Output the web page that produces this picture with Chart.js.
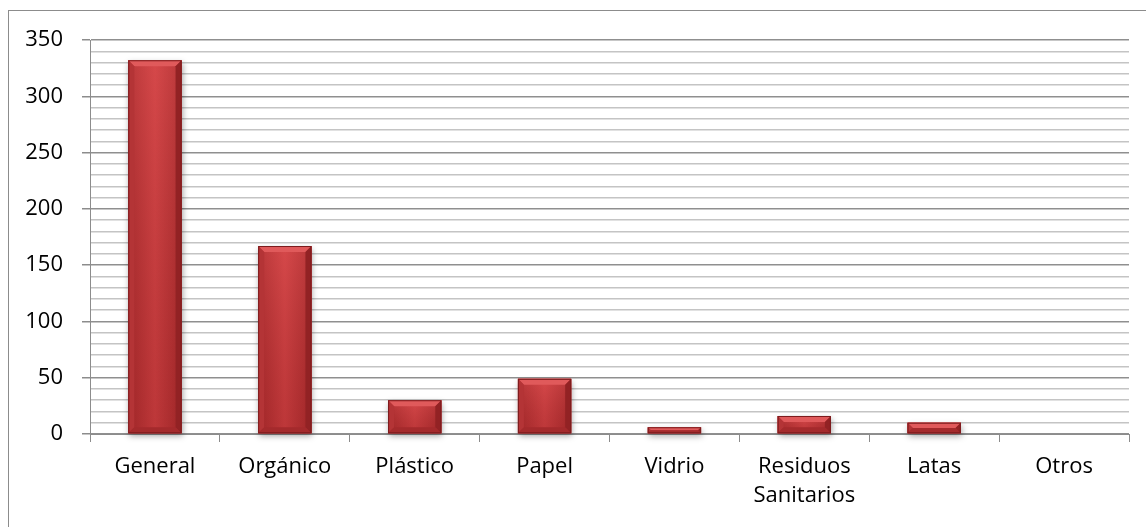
<!DOCTYPE html>
<html>
<head>
<meta charset="utf-8">
<script src="https://cdn.jsdelivr.net/npm/chart.js@4/dist/chart.umd.min.js"></script>
<style>
  html, body { margin: 0; padding: 0; background: #fff; overflow: hidden; }
  #frame {
    position: absolute; left: 8px; top: 10px; width: 1150px; height: 540px;
    border: 1px solid #8c8c8c; box-sizing: border-box;
  }
  #wrap { position: absolute; left: 0; top: 0; width: 1146px; height: 527px; }
</style>
</head>
<body>
<div id="frame"></div>
<div id="wrap"><canvas id="chart"></canvas></div>
<script>
const categories = ['General', 'Orgánico', 'Plástico', 'Papel', 'Vidrio', ['Residuos', 'Sanitarios'], 'Latas', 'Otros'];
const values = [332, 167, 30, 49, 6, 16, 10, 0];
const yMax = 350;
const yStep = 10;
const yLabelStep = 50;

// draws the soft shadow under each bar before the library paints the bars
const shadowPlugin = {
  id: 'barShadow',
  beforeDatasetsDraw(chart) {
    const ctx = chart.ctx;
    const meta = chart.getDatasetMeta(0);
    ctx.save();
    meta.data.forEach((el) => {
      const h = el.base - el.y;
      if (h < 1) return;
      ctx.shadowColor = 'rgba(0,0,0,0.35)';
      ctx.shadowBlur = 6;
      ctx.shadowOffsetX = 1;
      ctx.shadowOffsetY = 3;
      ctx.fillStyle = '#b03234';
      ctx.fillRect(el.x - el.width / 2, el.y, el.width, h);
    });
    ctx.restore();
  }
};

// bevel look of the office style bars, laid over the library's bars
const bevelPlugin = {
  id: 'bevel',
  afterDatasetsDraw(chart) {
    const ctx = chart.ctx;
    const meta = chart.getDatasetMeta(0);
    ctx.save();
    meta.data.forEach((el) => {
      const top = el.y, bottom = el.base;
      const left = el.x - el.width / 2, right = el.x + el.width / 2;
      const h = bottom - top;
      if (h < 1) return;
      const b = Math.min(6, h / 2);

      const face = ctx.createLinearGradient(left, 0, right, 0);
      face.addColorStop(0, '#a82b2d');
      face.addColorStop(0.5, '#cb3f41');
      face.addColorStop(1, '#a82b2d');
      ctx.fillStyle = face;
      ctx.fillRect(left, top, right - left, h);

      const vert = ctx.createLinearGradient(0, top, 0, bottom);
      vert.addColorStop(0, 'rgba(255,110,110,0.2)');
      vert.addColorStop(1, 'rgba(90,0,0,0.12)');
      ctx.fillStyle = vert;
      ctx.fillRect(left, top, right - left, h);

      // top bevel
      ctx.fillStyle = '#e05a5b';
      ctx.beginPath();
      ctx.moveTo(left, top); ctx.lineTo(right, top);
      ctx.lineTo(right - b, top + b); ctx.lineTo(left + b, top + b);
      ctx.closePath(); ctx.fill();
      // left bevel
      ctx.fillStyle = '#b43436';
      ctx.beginPath();
      ctx.moveTo(left, top); ctx.lineTo(left + b, top + b);
      ctx.lineTo(left + b, bottom - b); ctx.lineTo(left, bottom);
      ctx.closePath(); ctx.fill();
      // right bevel
      ctx.fillStyle = '#922224';
      ctx.beginPath();
      ctx.moveTo(right, top); ctx.lineTo(right - b, top + b);
      ctx.lineTo(right - b, bottom - b); ctx.lineTo(right, bottom);
      ctx.closePath(); ctx.fill();
      // bottom bevel
      ctx.fillStyle = '#a42a2c';
      ctx.beginPath();
      ctx.moveTo(left, bottom); ctx.lineTo(left + b, bottom - b);
      ctx.lineTo(right - b, bottom - b); ctx.lineTo(right, bottom);
      ctx.closePath(); ctx.fill();

      ctx.strokeStyle = '#7c1b1d';
      ctx.lineWidth = 1;
      ctx.strokeRect(left + 0.5, top + 0.5, right - left - 1, h - 1);
    });
    ctx.restore();
  }
};

const ctx = document.getElementById('chart').getContext('2d');
new Chart(ctx, {
  type: 'bar',
  data: {
    labels: categories,
    datasets: [{
      data: values,
      backgroundColor: '#c23a3c',
      borderWidth: 0,
      barPercentage: 0.41,
      categoryPercentage: 1
    }]
  },
  options: {
    responsive: true,
    maintainAspectRatio: false,
    animation: false,
    events: [],
    layout: { padding: { left: 0, right: 17, top: 40, bottom: 0 } },
    plugins: {
      legend: { display: false },
      tooltip: { enabled: false }
    },
    scales: {
      x: {
        afterFit(scale) { scale.height = 93; },
        border: { color: '#8c8c8c', width: 1 },
        grid: {
          offset: true,
          drawOnChartArea: false,
          drawTicks: true,
          tickLength: 8,
          tickColor: '#8c8c8c'
        },
        ticks: {
          color: '#000',
          padding: 10,
          maxRotation: 0,
          autoSkip: false,
          font: { family: 'Open Sans', size: 22, lineHeight: 1.32 }
        }
      },
      y: {
        min: 0,
        max: yMax,
        afterFit(scale) { scale.width = 90; },
        border: { color: '#8c8c8c', width: 1 },
        grid: {
          color: (c) => (c.tick && c.tick.value % yLabelStep === 0 ? '#8f8f8f' : '#c4c4c4'),
          lineWidth: 1.5,
          tickLength: 8,
          tickColor: (c) => (c.tick && c.tick.value % yLabelStep === 0 ? '#8c8c8c' : 'rgba(0,0,0,0)')
        },
        ticks: {
          stepSize: yStep,
          autoSkip: false,
          padding: 19,
          color: '#000',
          font: { family: 'Open Sans', size: 22 },
          callback: (v) => (v % yLabelStep === 0 ? v : '')
        }
      }
    }
  },
  plugins: [shadowPlugin, bevelPlugin]
});
</script>
</body>
</html>
